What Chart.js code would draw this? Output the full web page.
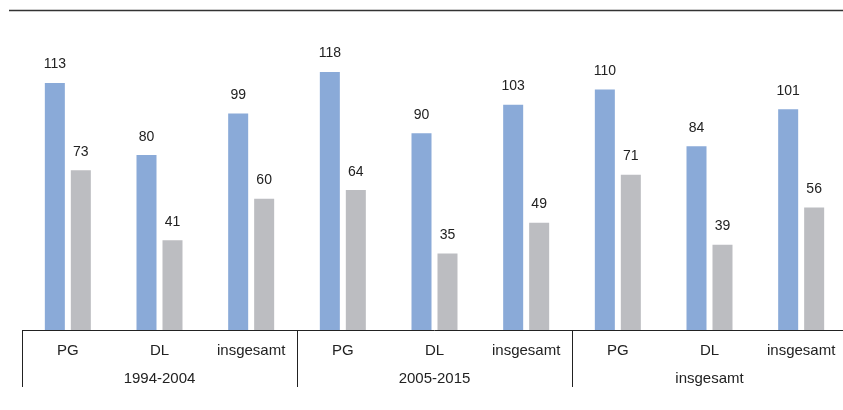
<!DOCTYPE html>
<html>
<head>
<meta charset="utf-8">
<script src="https://cdn.jsdelivr.net/npm/chart.js@4/dist/chart.umd.min.js"></script>
<style>
html,body{margin:0;padding:0;background:#fff;overflow:hidden;width:843px;height:410px;}
#wrap{position:relative;width:847px;height:410px;}
</style>
</head>
<body>
<div id="wrap"><canvas id="c"></canvas></div>
<script>
const categories = ['PG','DL','insgesamt','PG','DL','insgesamt','PG','DL','insgesamt'];
const groups = ['1994-2004','2005-2015','insgesamt'];
const seriesBlue = [113,80,99,118,90,103,110,84,101];
const seriesGray = [73,41,60,64,35,49,71,39,56];

const FONT = '"Liberation Sans", Arial, Helvetica, sans-serif';
const TEXT = '#222';

const decor = {
  id: 'decor',
  afterDatasetsDraw(chart) {
    const ctx = chart.ctx;
    const x = chart.scales.x;
    const ca = chart.chartArea;
    const base = ca.bottom;
    const step = x.getPixelForValue(1) - x.getPixelForValue(0);
    ctx.save();
    // top rule
    ctx.strokeStyle = '#333';
    ctx.lineWidth = 1.5;
    ctx.beginPath();
    ctx.moveTo(9, 10.5);
    ctx.lineTo(chart.width, 10.5);
    ctx.stroke();
    // baseline + box
    ctx.lineWidth = 1;
    ctx.strokeStyle = '#222';
    ctx.beginPath();
    ctx.moveTo(ca.left, base + 0.5);
    ctx.lineTo(chart.width, base + 0.5);
    const boxBottom = base + 57;
    for (let g = 0; g < groups.length; g++) {
      const xl = Math.round(x.getPixelForValue(g * 3) - step / 2) + 0.5;
      ctx.moveTo(xl, base);
      ctx.lineTo(xl, boxBottom);
    }
    ctx.stroke();
    // value labels
    ctx.fillStyle = TEXT;
    ctx.font = '14px ' + FONT;
    ctx.textAlign = 'center';
    ctx.textBaseline = 'alphabetic';
    chart.data.datasets.forEach((ds, di) => {
      const meta = chart.getDatasetMeta(di);
      meta.data.forEach((bar, i) => {
        ctx.fillText(String(ds.data[i]), bar.x, bar.y - 14.5);
      });
    });
    // category labels
    ctx.font = '15px ' + FONT;
    categories.forEach((c, i) => {
      ctx.fillText(c, x.getPixelForValue(i), base + 24.5);
    });
    // group labels
    groups.forEach((g, gi) => {
      const cx = x.getPixelForValue(gi * 3 + 1);
      ctx.fillText(g, cx, base + 53);
    });
    ctx.restore();
  }
};

new Chart(document.getElementById('c'), {
  type: 'bar',
  data: {
    labels: categories,
    datasets: [
      { data: seriesBlue, backgroundColor: '#8aaad8', categoryPercentage: 0.567, barPercentage: 0.77 },
      { data: seriesGray, backgroundColor: '#bcbdc1', categoryPercentage: 0.567, barPercentage: 0.77 }
    ]
  },
  options: {
    responsive: true,
    maintainAspectRatio: false,
    animation: false,
    events: [],
    layout: { padding: { left: 22, right: 0, top: 2, bottom: 0 } },
    plugins: { legend: { display: false }, tooltip: { enabled: false } },
    scales: {
      y: { display: false, min: 0, max: 150 },
      x: {
        display: true,
        grid: { display: false },
        border: { display: false },
        ticks: { display: false },
        afterFit(s) { s.height = 80; }
      }
    }
  },
  plugins: [decor]
});
</script>
</body>
</html>
